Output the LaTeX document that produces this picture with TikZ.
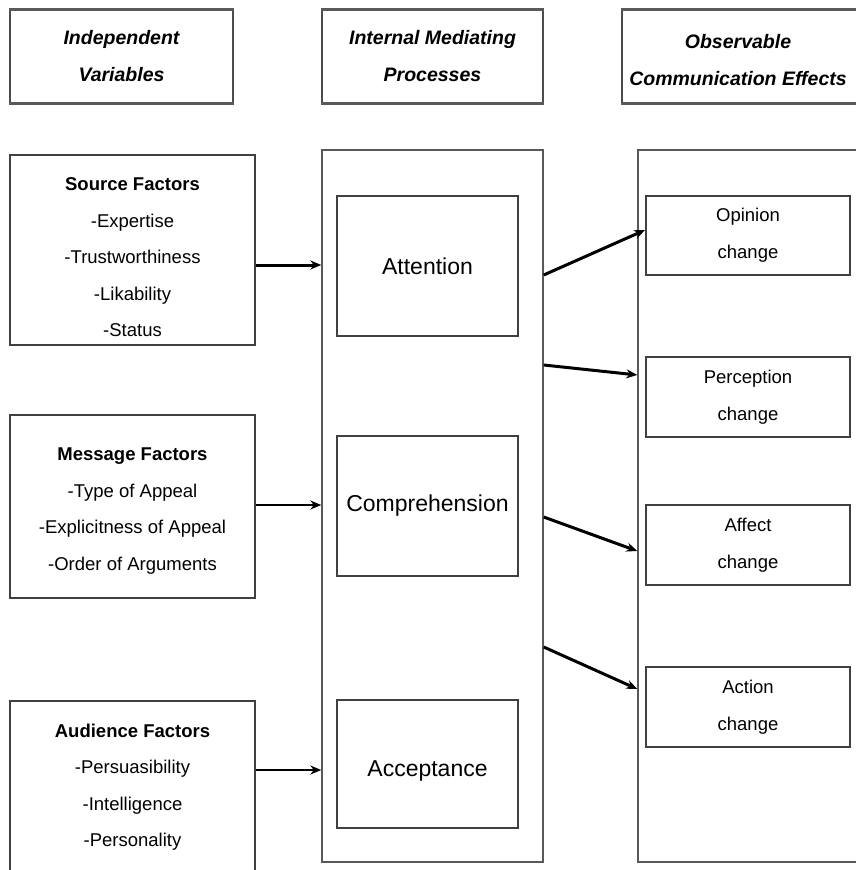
\documentclass[tikz,border=0pt]{standalone}
\usepackage{fontspec}
\setmainfont{Liberation Sans}
\usetikzlibrary{arrows.meta}
\begin{document}
\begin{tikzpicture}[x=1pt,y=-1pt,
  box/.style={draw=black!75, line width=1.8pt, rectangle, inner sep=0pt},
  headbox/.style={draw=black!70, line width=1.6pt, rectangle, inner sep=0pt},
  rule/.style={draw=black!65, line width=3.2pt},
  frame/.style={draw=black!65, line width=1.4pt, rectangle, inner sep=0pt},
  headtxt/.style={align=center, font=\fontsize{19.5}{37}\selectfont\bfseries\itshape},
  listtxt/.style={align=center, font=\fontsize{18.5}{36.5}\selectfont},
  proctxt/.style={font=\fontsize{23}{25}\selectfont},
  efftxt/.style={align=center, font=\fontsize{18.5}{37}\selectfont},
  arr/.style={line width=3pt, -{Stealth[length=11pt,width=9pt]}}]
\useasboundingbox (0,0) rectangle (855,870);
\fill[white] (0,0) rectangle (855,870);

% column headings
\node[headbox, minimum width=223pt, minimum height=93pt] (h1) at (121.5,56.5) {};
\node[headtxt] (h1t) at (h1) {Independent\\Variables};
\node[headbox, minimum width=221pt, minimum height=93pt] (h2) at (432.5,56.5) {};
\node[headtxt] (h2t) at (h2) {Internal Mediating\\Processes};
\node[headbox, minimum width=236pt, minimum height=93pt] (h3) at (740,56.5) {};
\node[headtxt] (h3t) at (738,60.5) {Observable\\Communication Effects};
\foreach \b in {h1,h2,h3} {
  \draw[rule] (\b.north west) -- (\b.north east);
  \draw[rule] (\b.south west) -- (\b.south east);
}

% independent variables
\node[box, minimum width=245pt, minimum height=190pt] (src) at (132.5,250) {};
\node[listtxt] (srct) at (132.5,257.5) {\textbf{Source Factors}\\-Expertise\\-Trustworthiness\\-Likability\\-Status};
\node[box, minimum width=245pt, minimum height=183pt] (msg) at (132.5,506.5) {};
\node[listtxt] (msgt) at (132.5,511) {\textbf{Message Factors}\\-Type of Appeal\\-Explicitness of Appeal\\-Order of Arguments};
\node[box, minimum width=245pt, minimum height=180pt] (aud) at (132.5,791) {};
\node[listtxt] (audt) at (132.5,787) {\textbf{Audience Factors}\\-Persuasibility\\-Intelligence\\-Personality};

% mediating processes
\node[frame, minimum width=221pt, minimum height=712pt] (mid) at (432.5,506) {};
\node[box, minimum width=181pt, minimum height=140pt] (att) at (427.5,266) {};
\node[proctxt] (attt) at (att) {Attention};
\node[box, minimum width=181pt, minimum height=140pt] (comp) at (427.5,506) {};
\node[proctxt] (compt) at (comp) {Comprehension};
\node[box, minimum width=181pt, minimum height=128pt] (acc) at (427.5,764) {};
\node[proctxt] (acct) at (427.5,771) {Acceptance};

% communication effects
\node[frame, minimum width=220pt, minimum height=712pt] (eff) at (748,506) {};
\node[box, minimum width=204pt, minimum height=79pt] (op) at (748,235.5) {};
\node[efftxt] (opt) at (op) {Opinion\\change};
\node[box, minimum width=204pt, minimum height=80pt] (pe) at (748,397) {};
\node[efftxt] (pet) at (pe) {Perception\\change};
\node[box, minimum width=204pt, minimum height=80pt] (af) at (748,545) {};
\node[efftxt] (aft) at (af) {Affect\\change};
\node[box, minimum width=204pt, minimum height=80pt] (ac) at (748,707) {};
\node[efftxt] (act) at (ac) {Action\\change};

% connector anchor points on the frames
\coordinate (s1) at (mid.east |- 0,275);
\coordinate (s2) at (mid.east |- 0,365);
\coordinate (s3) at (mid.east |- 0,517);
\coordinate (s4) at (mid.east |- 0,647);
\coordinate (e1) at (op.west |- 0,230);
\coordinate (e2) at (eff.west |- 0,375);
\coordinate (e3) at (eff.west |- 0,551);
\coordinate (e4) at (eff.west |- 0,689);

\draw[arr] (src.east |- 0,265) -- (mid.west |- 0,265);
\draw[arr, line width=2.2pt] (msg.east |- 0,505) -- (mid.west |- 0,505);
\draw[arr, line width=2.2pt] (aud.east |- 0,770) -- (mid.west |- 0,770);

\draw[arr] (s1) -- (e1);
\draw[arr] (s2) -- (e2);
\draw[arr] (s3) -- (e3);
\draw[arr] (s4) -- (e4);
\end{tikzpicture}
\end{document}
